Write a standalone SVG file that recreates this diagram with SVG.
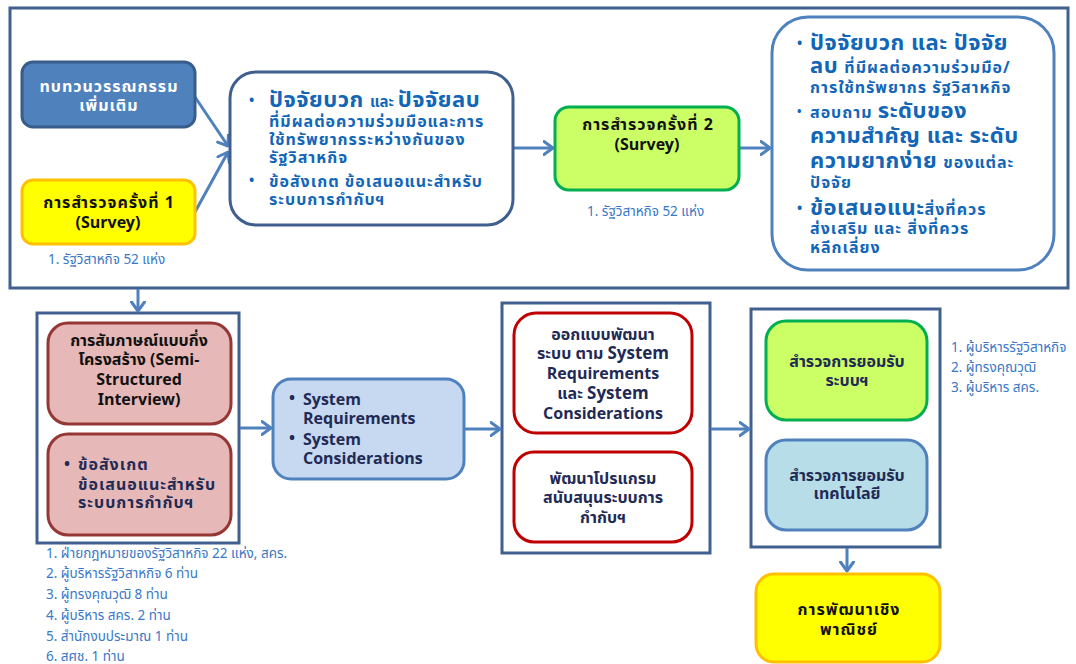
<svg xmlns="http://www.w3.org/2000/svg" width="1076" height="664" viewBox="0 0 1076 664">
  <defs>
    <marker id="chev" viewBox="0 0 12 16" refX="10.5" refY="8" markerWidth="12" markerHeight="16" markerUnits="userSpaceOnUse" orient="auto">
      <path d="M1.5,1.5 L10.5,8 L1.5,14.5" fill="none" stroke="#4f81bd" stroke-width="3" stroke-linecap="round" stroke-linejoin="round"/>
    </marker>
    <style>
      text { font-family: Tahoma, "Noto Sans Thai", "Noto Sans", "DejaVu Sans", sans-serif; font-weight: bold; }
      .frame { fill: #ffffff; stroke: #41608f; stroke-width: 3; }
      .conn { fill: none; stroke: #4f81bd; stroke-width: 3; marker-end: url(#chev); }
      .dark { fill: #111111; font-size: 16px; }
      .navy { fill: #1f2a55; font-size: 16px; }
      .blue { fill: #1266b8; }
      .big { font-size: 22px; letter-spacing: 0.5px; }
      .sm { font-size: 16px; letter-spacing: 1px; }
      .wide { letter-spacing: 1px; }
      .note { fill: #3a78c6; font-size: 13.5px; font-weight: normal; }
      .mid { text-anchor: middle; }
    </style>
  </defs>

  <!-- outer frames -->
  <g id="frame-top"><rect class="frame" x="10" y="8" width="1058" height="280"/></g>
  <g id="frame-interview"><rect class="frame" x="37" y="313" width="202" height="230"/></g>
  <g id="frame-develop"><rect class="frame" x="502" y="303" width="208" height="250"/></g>
  <g id="frame-accept"><rect class="frame" x="751" y="309" width="189" height="238"/></g>

  <!-- connectors -->
  <g id="connectors">
    <line class="conn" x1="195" y1="97" x2="228" y2="146"/>
    <line class="conn" x1="195" y1="212" x2="228" y2="152"/>
    <line class="conn" x1="513" y1="148" x2="553" y2="148"/>
    <line class="conn" x1="739" y1="148" x2="770" y2="148"/>
    <line class="conn" x1="138" y1="289" x2="138" y2="311"/>
    <line class="conn" x1="240" y1="428" x2="271" y2="428"/>
    <line class="conn" x1="464" y1="429" x2="500" y2="429"/>
    <line class="conn" x1="711" y1="429" x2="749" y2="429"/>
    <line class="conn" x1="847" y1="548" x2="847" y2="571"/>
  </g>

  <!-- literature review -->
  <g id="node-review">
    <rect x="22" y="62" width="173" height="65" rx="11" fill="#4f81bd" stroke="#385d8a" stroke-width="3"/>
    <text class="mid wide" x="109" y="92" fill="#ffffff" font-size="16">ทบทวนวรรณกรรม</text>
    <text class="mid wide" x="109" y="111" fill="#ffffff" font-size="16">เพิ่มเติม</text>
  </g>

  <!-- first survey -->
  <g id="node-survey1">
    <rect x="22" y="180" width="173" height="64" rx="11" fill="#ffff00" stroke="#ffc000" stroke-width="3"/>
    <text class="mid dark wide" x="109" y="208" font-size="17">การสำรวจครั้งที่ 1</text>
    <text class="mid dark" x="108" y="228" font-size="17">(Survey)</text>
    <text class="note" x="48" y="264">1. รัฐวิสาหกิจ 52 แห่ง</text>
  </g>

  <!-- factors summary -->
  <g id="node-factors">
    <rect x="230" y="72" width="283" height="153" rx="26" fill="#ffffff" stroke="#3f5f8f" stroke-width="3"/>
    <text class="blue" x="249" y="105" font-size="14">•</text>
    <text class="blue" x="269" y="107"><tspan class="big">ปัจจัยบวก </tspan><tspan font-size="15px">และ </tspan><tspan class="big">ปัจจัยลบ</tspan></text>
    <text class="blue sm" x="269" y="127">ที่มีผลต่อความร่วมมือและการ</text>
    <text class="blue sm" x="269" y="145">ใช้ทรัพยากรระหว่างกันของ</text>
    <text class="blue sm" x="269" y="163">รัฐวิสาหกิจ</text>
    <text class="blue" x="249" y="185" font-size="14">•</text>
    <text class="blue sm" x="269" y="187">ข้อสังเกต ข้อเสนอแนะสำหรับ</text>
    <text class="blue sm" x="269" y="205">ระบบการกำกับฯ</text>
  </g>

  <!-- second survey -->
  <g id="node-survey2">
    <rect x="555" y="107" width="184" height="83" rx="14" fill="#ccff66" stroke="#00b050" stroke-width="3"/>
    <text class="mid dark wide" x="648" y="130" font-size="17">การสำรวจครั้งที่ 2</text>
    <text class="mid dark" x="647" y="150" font-size="17">(Survey)</text>
    <text class="note" x="587" y="216">1. รัฐวิสาหกิจ 52 แห่ง</text>
  </g>

  <!-- survey topics -->
  <g id="node-topics">
    <rect x="772" y="17" width="282" height="253" rx="36" fill="#ffffff" stroke="#4f81bd" stroke-width="3"/>
    <text class="blue" x="797" y="48" font-size="14">•</text>
    <text class="blue big" x="810" y="50">ปัจจัยบวก และ ปัจจัย</text>
    <text class="blue" x="810" y="73"><tspan class="big">ลบ </tspan><tspan class="sm">ที่มีผลต่อความร่วมมือ/</tspan></text>
    <text class="blue sm" x="810" y="93">การใช้ทรัพยากร รัฐวิสาหกิจ</text>
    <text class="blue" x="797" y="116" font-size="12">•</text>
    <text class="blue" x="810" y="118"><tspan class="sm">สอบถาม </tspan><tspan class="big">ระดับของ</tspan></text>
    <text class="blue big" x="810" y="143">ความสำคัญ และ ระดับ</text>
    <text class="blue" x="810" y="168"><tspan class="big">ความยากง่าย </tspan><tspan class="sm">ของแต่ละ</tspan></text>
    <text class="blue sm" x="810" y="188">ปัจจัย</text>
    <text class="blue" x="797" y="213" font-size="14">•</text>
    <text class="blue" x="810" y="215"><tspan class="big">ข้อเสนอแนะ</tspan><tspan class="sm">สิ่งที่ควร</tspan></text>
    <text class="blue sm" x="810" y="234">ส่งเสริม และ สิ่งที่ควร</text>
    <text class="blue sm" x="810" y="253">หลีกเลี่ยง</text>
  </g>

  <!-- interview -->
  <g id="node-interview">
    <rect x="48" y="323" width="183" height="101" rx="20" fill="#e6b9b8" stroke="#953735" stroke-width="3"/>
    <text class="mid dark" x="139" y="346" font-size="17">การสัมภาษณ์แบบกึ่ง</text>
    <text class="mid dark" x="139" y="365" font-size="17">โครงสร้าง (Semi-</text>
    <text class="mid dark" x="139" y="385" font-size="17">Structured</text>
    <text class="mid dark" x="139" y="405" font-size="17">Interview)</text>
  </g>

  <!-- interview findings -->
  <g id="node-findings">
    <rect x="48" y="434" width="183" height="101" rx="20" fill="#e6b9b8" stroke="#953735" stroke-width="3"/>
    <text class="navy" x="64" y="469" font-size="13">•</text>
    <text class="navy wide" x="78" y="470">ข้อสังเกต</text>
    <text class="navy wide" x="78" y="490">ข้อเสนอแนะสำหรับ</text>
    <text class="navy wide" x="78" y="508">ระบบการกำกับฯ</text>
  </g>

  <!-- interviewees -->
  <g id="interviewees">
    <text class="note" x="46" y="558">1. ฝ่ายกฎหมายของรัฐวิสาหกิจ 22 แห่ง, สคร.</text>
    <text class="note" x="46" y="578">2. ผู้บริหารรัฐวิสาหกิจ 6 ท่าน</text>
    <text class="note" x="46" y="599">3. ผู้ทรงคุณวุฒิ 8 ท่าน</text>
    <text class="note" x="46" y="620">4. ผู้บริหาร สคร. 2 ท่าน</text>
    <text class="note" x="46" y="641">5. สำนักงบประมาณ 1 ท่าน</text>
    <text class="note" x="46" y="661">6. สศช. 1 ท่าน</text>
  </g>

  <!-- system requirements -->
  <g id="node-requirements">
    <rect x="273" y="379" width="191" height="100" rx="18" fill="#c6d9f1" stroke="#4f81bd" stroke-width="3"/>
    <text class="navy" x="289" y="403" font-size="13">•</text>
    <text class="navy" x="303" y="405" font-size="17">System</text>
    <text class="navy" x="303" y="424" font-size="17">Requirements</text>
    <text class="navy" x="289" y="443" font-size="13">•</text>
    <text class="navy" x="303" y="445" font-size="17">System</text>
    <text class="navy" x="303" y="464" font-size="17">Considerations</text>
  </g>

  <!-- system design -->
  <g id="node-design">
    <rect x="514" y="313" width="178" height="120" rx="22" fill="#ffffff" stroke="#c00000" stroke-width="3"/>
    <text class="mid navy" x="603" y="340">ออกแบบพัฒนา</text>
    <text class="mid navy" x="603" y="359">ระบบ ตาม <tspan font-size="17">System</tspan></text>
    <text class="mid navy" x="603" y="379" font-size="17">Requirements</text>
    <text class="mid navy" x="603" y="399">และ <tspan font-size="17">System</tspan></text>
    <text class="mid navy" x="603" y="419" font-size="17">Considerations</text>
  </g>

  <!-- support program -->
  <g id="node-program">
    <rect x="514" y="452" width="178" height="90" rx="20" fill="#ffffff" stroke="#c00000" stroke-width="3"/>
    <text class="mid navy" x="603" y="484">พัฒนาโปรแกรม</text>
    <text class="mid navy" x="603" y="503">สนับสนุนระบบการ</text>
    <text class="mid navy" x="603" y="523">กำกับฯ</text>
  </g>

  <!-- system acceptance -->
  <g id="node-accept-system">
    <rect x="766" y="321" width="161" height="99" rx="20" fill="#ccff66" stroke="#00b050" stroke-width="3"/>
    <text class="mid navy" x="847" y="367">สำรวจการยอมรับ</text>
    <text class="mid navy" x="847" y="386">ระบบฯ</text>
  </g>

  <!-- technology acceptance -->
  <g id="node-accept-tech">
    <rect x="766" y="440" width="161" height="90" rx="20" fill="#b7dde8" stroke="#4f81bd" stroke-width="3"/>
    <text class="mid navy" x="847" y="481">สำรวจการยอมรับ</text>
    <text class="mid navy" x="847" y="499">เทคโนโลยี</text>
  </g>

  <!-- respondents -->
  <g id="respondents">
    <text class="note" x="951" y="352">1. ผู้บริหารรัฐวิสาหกิจ</text>
    <text class="note" x="951" y="372">2. ผู้ทรงคุณวุฒิ</text>
    <text class="note" x="951" y="392">3. ผู้บริหาร สคร.</text>
  </g>

  <!-- commercialisation -->
  <g id="node-commercial">
    <rect x="756" y="574" width="184" height="88" rx="18" fill="#ffff00" stroke="#ffc000" stroke-width="3"/>
    <text class="mid dark wide" x="849" y="615">การพัฒนาเชิง</text>
    <text class="mid dark wide" x="849" y="635">พาณิชย์</text>
  </g>
</svg>
